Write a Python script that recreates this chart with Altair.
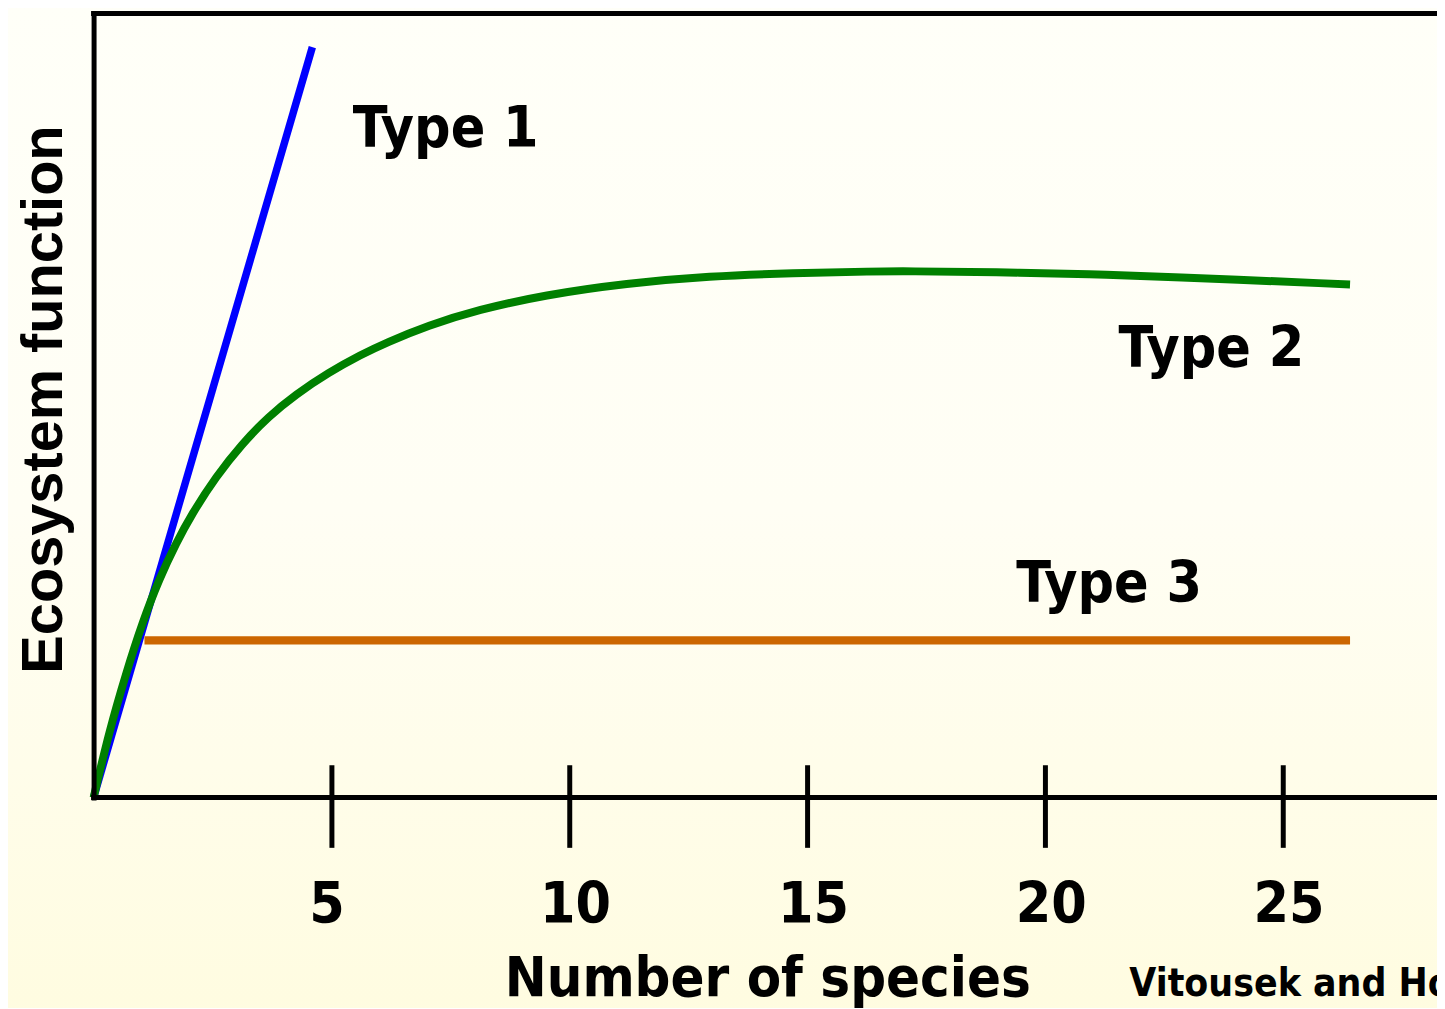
import altair as alt
import pandas as pd

# ---------------- data ----------------
type1_x = [0.0, 4.6]
type1_y = [0.0, 95.7]

type2_x = [0.0, 0.335, 0.69, 1.025, 1.38, 1.74, 2.07, 2.57, 3.12, 3.68, 4.25, 4.94,
           5.63, 6.15, 7.03, 8.08, 9.48, 11.21, 12.95, 14.71, 16.44, 17.07, 18.95,
           21.05, 22.45, 26.42]
type2_y = [0.0, 8.6, 16.0, 22.3, 27.9, 32.5, 36.2, 40.9, 45.1, 48.6, 51.4, 54.2,
           56.5, 58.0, 60.2, 62.2, 64.1, 65.6, 66.5, 66.9, 67.1, 67.13, 67.01,
           66.75, 66.45, 65.44]

type3_x = [1.07, 26.42]
type3_y = [20.05, 20.05]

label_text = ["Type 1", "Type 2", "Type 3"]
label_x = [5.45, 21.55, 19.4]
label_y = [83.0, 54.86, 24.96]

source_text = ["Vitousek and Hooper 1993"]
source_x = [21.78]
source_y = [-25.29]

tick_values = [5, 10, 15, 20, 25]

# ---------------- layout ----------------
W = 1350
H = 788
XMAX = W / 47.79
F = "'DejaVu Sans Condensed', 'DejaVu Sans', sans-serif"
YF = "'Liberation Sans', Arial, sans-serif"

xscale = alt.Scale(domain=[0, XMAX], nice=False, zero=False)
yscale = alt.Scale(domain=[0, 100], nice=False, zero=False)

xaxis = alt.Axis(
    values=tick_values, domain=False, grid=False, ticks=True, zindex=2,
    tickSize=83, tickWidth=5, tickColor="black", offset=-33,
    labelFont=F, labelFontSize=57, labelFontWeight="bold", labelColor="black",
    labelPadding=76, labelBaseline="alphabetic", labelFlush=False, labelOverlap=False,
    labelOffset={"condition": {"test": "datum.value == 5", "value": -5}, "value": 6},
    title="Number of species", titleFont=F, titleFontSize=56, titleFontWeight="bold",
    titleColor="black", titleX=677, titleY=232, titleAlign="center",
    titleBaseline="alphabetic",
)
yaxis = alt.Axis(
    domain=True, domainColor="black", domainWidth=5, domainCap="square", zindex=2,
    ticks=False, labels=False, grid=False,
    title="Ecosystem function", titleFont=YF, titleFontSize=58, titleFontWeight="bold",
    titleColor="black", titleAngle=270, titleX=-32, titleY=387.5,
    titleAlign="center", titleBaseline="alphabetic",
)

X = alt.X("x:Q", scale=xscale, axis=xaxis)
Y = alt.Y("y:Q", scale=yscale, axis=yaxis)

one = pd.DataFrame({"a": [0]})
df1 = pd.DataFrame({"x": type1_x, "y": type1_y})
df2 = pd.DataFrame({"x": type2_x, "y": type2_y})
df3 = pd.DataFrame({"x": type3_x, "y": type3_y})
dfl = pd.DataFrame({"x": label_x, "y": label_y, "t": label_text})
dfs = pd.DataFrame({"x": source_x, "y": source_y, "t": source_text})

bg = alt.Chart(one).mark_rect(
    fill=alt.Gradient(
        gradient="linear",
        stops=[alt.GradientStop(color="#FFFFF8", offset=0),
               alt.GradientStop(color="#FFFEF4", offset=0.5),
               alt.GradientStop(color="#FFFCE0", offset=1)],
        x1=0, x2=0, y1=0, y2=1,
    )
).encode(x=alt.value(-90), x2=alt.value(W + 10), y=alt.value(-15), y2=alt.value(H + 225))

top_rule = alt.Chart(one).mark_rule(color="black", strokeWidth=5, strokeCap="square").encode(
    x=alt.value(0), x2=alt.value(W + 10), y=alt.value(0)
)
bottom_rule = alt.Chart(one).mark_rule(color="black", strokeWidth=5, strokeCap="square").encode(
    x=alt.value(0), x2=alt.value(W + 10), y=alt.value(H)
)

l1 = alt.Chart(df1).mark_line(color="#0000FF", strokeWidth=7.5).encode(x=X, y=Y)
l3 = alt.Chart(df3).mark_line(color="#CC6600", strokeWidth=8.5).encode(x=X, y=Y)
l2 = alt.Chart(df2).mark_line(color="#008000", strokeWidth=8, interpolate="basis").encode(x=X, y=Y)

labels = alt.Chart(dfl).mark_text(
    align="left", baseline="alphabetic", font=F, fontSize=57, fontWeight="bold", color="black"
).encode(x=X, y=Y, text="t:N")

source = alt.Chart(dfs).mark_text(
    align="left", baseline="alphabetic", font=F, fontSize=39, fontWeight="bold", color="black"
).encode(x=X, y=Y, text="t:N")

chart = alt.layer(bg, l1, l3, l2, labels, source, top_rule, bottom_rule).properties(
    width=W, height=H,
    autosize=alt.AutoSizeParams(type="none"),
    padding={"left": 86, "top": 3, "right": 0, "bottom": 209},
    background="#FFFEF2",
).configure_view(stroke=None)

chart.save("out.html", embed_options={"renderer": "svg", "actions": False})
